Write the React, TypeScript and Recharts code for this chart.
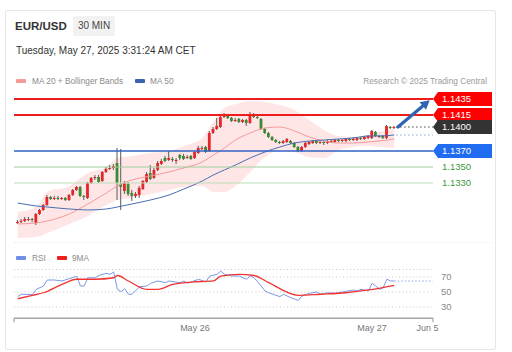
import React from "react";
import { ComposedChart, Bar, Line, Area, XAxis, YAxis, ReferenceLine, CartesianGrid } from "recharts";

const FONT = "'Liberation Sans', Arial, sans-serif";

// ---- candle data (30 min, index 0..102) ----
const opens = [1.128,1.12813,1.12825,1.12838,1.1285,1.128,1.12913,1.12963,1.13025,1.13125,1.131,1.13113,1.131,1.13113,1.13088,1.1315,1.13213,1.1325,1.13138,1.13113,1.133,1.13363,1.13375,1.13325,1.13438,1.13475,1.13488,1.1355,1.13288,1.132,1.13288,1.13175,1.13138,1.1315,1.13225,1.13313,1.13425,1.13363,1.13463,1.13538,1.13613,1.13588,1.136,1.13575,1.1365,1.13638,1.13613,1.13638,1.13613,1.13675,1.13725,1.1375,1.137,1.13925,1.13975,1.14,1.14125,1.14138,1.14113,1.14075,1.141,1.14063,1.14088,1.1405,1.1415,1.14125,1.141,1.13975,1.13925,1.13875,1.13838,1.13813,1.138,1.13813,1.13825,1.138,1.1375,1.137,1.1375,1.13788,1.138,1.13825,1.138,1.13813,1.138,1.13813,1.13813,1.13838,1.13825,1.13825,1.1385,1.13838,1.13838,1.13863,1.1385,1.13863,1.13863,1.13938,1.13875,1.13888,1.13863,1.14,1.13988];
const highs = [1.12838,1.1285,1.12875,1.12875,1.12863,1.12925,1.12975,1.13038,1.1315,1.13138,1.13138,1.13138,1.13125,1.13125,1.13163,1.13225,1.13263,1.13263,1.1315,1.13313,1.13375,1.134,1.134,1.1345,1.135,1.13525,1.13538,1.13738,1.13725,1.13325,1.13313,1.13213,1.13188,1.13263,1.13338,1.13438,1.13525,1.13488,1.13575,1.136,1.13638,1.137,1.13625,1.13613,1.13663,1.13663,1.1365,1.1365,1.137,1.13763,1.13763,1.13763,1.1395,1.14,1.14113,1.1415,1.14175,1.14163,1.14125,1.14113,1.14113,1.141,1.141,1.14188,1.14175,1.1415,1.14113,1.13988,1.13938,1.13888,1.1385,1.13825,1.13838,1.13863,1.13838,1.13813,1.13763,1.13763,1.13813,1.13825,1.13838,1.13838,1.13825,1.13825,1.13838,1.13838,1.1385,1.1385,1.1385,1.13863,1.13863,1.13875,1.13875,1.13875,1.13888,1.139,1.13963,1.1395,1.139,1.139,1.14025,1.14013,1.14013];
const lows = [1.12788,1.128,1.12813,1.12825,1.12813,1.12775,1.129,1.1295,1.13013,1.13088,1.13088,1.13088,1.13088,1.13075,1.13075,1.13138,1.132,1.13125,1.13088,1.131,1.13288,1.13338,1.133,1.13313,1.13425,1.13463,1.13463,1.13088,1.12963,1.13163,1.13138,1.13075,1.13113,1.13113,1.13213,1.133,1.13338,1.1335,1.1345,1.13525,1.13563,1.13575,1.13563,1.13538,1.13588,1.13588,1.136,1.13588,1.136,1.13663,1.13713,1.13675,1.13688,1.13913,1.13963,1.13988,1.14113,1.141,1.14063,1.14063,1.1405,1.1405,1.14013,1.14038,1.14113,1.141,1.13963,1.13913,1.13863,1.13825,1.138,1.13788,1.13788,1.138,1.13788,1.13738,1.13688,1.13688,1.13738,1.13775,1.13788,1.13788,1.13788,1.13775,1.13788,1.138,1.138,1.13813,1.13813,1.13813,1.13825,1.13825,1.13825,1.13838,1.13838,1.1385,1.1385,1.13875,1.13863,1.1385,1.1385,1.13975,1.13975];
const closes = [1.12813,1.12825,1.1285,1.1285,1.12838,1.12913,1.12963,1.13025,1.13125,1.131,1.13113,1.131,1.13113,1.13088,1.1315,1.13213,1.1325,1.13138,1.13125,1.133,1.13363,1.13375,1.13313,1.13438,1.13475,1.13488,1.13513,1.133,1.1325,1.133,1.13163,1.13138,1.13163,1.13238,1.13325,1.13413,1.1335,1.13463,1.1355,1.13575,1.13575,1.13613,1.13588,1.13588,1.13613,1.136,1.13625,1.136,1.13688,1.13738,1.13738,1.13688,1.13925,1.13975,1.14013,1.14125,1.1415,1.14113,1.14075,1.14088,1.14063,1.14088,1.1405,1.14163,1.14125,1.14113,1.13975,1.13925,1.13875,1.13838,1.13813,1.138,1.13825,1.1385,1.138,1.1375,1.137,1.1375,1.138,1.13813,1.13825,1.138,1.13813,1.138,1.13825,1.13825,1.13838,1.13825,1.13838,1.1385,1.13838,1.1385,1.13863,1.1385,1.13875,1.13888,1.1395,1.13888,1.13888,1.13863,1.14013,1.13988,1.14];

// ---- indicators read at sampled candle indices ----
const bandIdx = [0,5,8,14,19,24,27,31,36,41,45,50,53,56,59,63,67,71,75,79,83,87,91,95,98,102];
const bandUpper = [1.12938,1.13,1.13188,1.13263,1.13425,1.135,1.13613,1.13638,1.13675,1.137,1.13763,1.13863,1.14063,1.14238,1.14288,1.14325,1.14313,1.14275,1.14213,1.14088,1.13963,1.13888,1.13875,1.139,1.13938,1.13975];
const bandLower = [1.12613,1.12625,1.12675,1.12788,1.12888,1.13025,1.13088,1.13113,1.13163,1.13213,1.1325,1.13263,1.13188,1.13188,1.13263,1.13438,1.13625,1.13713,1.13688,1.13625,1.13613,1.13713,1.1375,1.13763,1.1375,1.13738];
const ma20Vals = [1.12788,1.128,1.12825,1.12913,1.13038,1.13175,1.13263,1.13338,1.13388,1.13438,1.13488,1.13563,1.1365,1.13738,1.13838,1.13925,1.13988,1.14,1.1395,1.13875,1.13825,1.138,1.138,1.13813,1.13825,1.1385];
const ma50Vals = [1.1305,1.13013,1.13,1.12975,1.12963,1.12975,1.13,1.13038,1.13088,1.1315,1.13225,1.13325,1.134,1.13463,1.13525,1.13613,1.13688,1.1375,1.138,1.13825,1.13838,1.1385,1.13863,1.13888,1.13888,1.139];

const rsiIdx = [0,1,4,5,7,8,10,12,14,16,17,18,19,21,22,24,25,26,27,28,29,30,31,33,35,36,38,40,41,44,45,46,49,51,52,54,55,56,58,60,62,63,64,66,67,68,71,72,74,76,77,79,81,82,84,86,88,91,92,93,95,96,97,98,99,100,101,102];
const rsiVals = [43.8,47,46.5,53.5,58,66,66,64.7,67.8,71,58,58,69,69,72,75,73.6,76.7,53.6,50.4,54.4,47,47,57,58,61.6,64.7,62.4,64.7,62.4,64.7,61.6,67,63.3,71.3,73.6,78,73.6,71.3,71.3,67,71.3,69,58,51.3,49,43.8,47,42.4,38.9,44.7,48.2,50,47,49,48.2,50,52.7,51.3,53.6,51.3,61.6,58,53.6,55.7,67,64.7,64.7];
const rsiMaIdx = [0,4,7,12,16,21,26,27,30,35,38,42,47,53,55,60,64,68,76,82,89,95,102];
const rsiMaVals = [41,45.6,49,60.2,67,67,69,72,64.7,53.6,53.6,60.2,63.3,64.7,71.3,73.6,72,62.4,45.6,47,49,52.7,59];

// ---- levels / ticks ----
const resistance1 = 1.1435;
const resistance2 = 1.1415;
const lastPrice = 1.14;
const pivot = 1.137;
const support1 = 1.135;
const support2 = 1.133;
const ma50Last = 1.139;
const rsiLast = 64.7;
const lastIndex = 102;
const xDomain = [-1, 112.5];
const priceDomain = [1.1255, 1.1445];
const rsiDomain = [15, 80];
const rsiTicks = [30, 50, 70];
const xTickValues = [48, 96, 111];
const xTickLabels = ["May 26", "May 27", "Jun 5"];

const candleData = opens.map((o, i) => {
  const k = bandIdx.indexOf(i);
  return {
    i,
    o,
    h: highs[i],
    l: lows[i],
    c: closes[i],
    range: [lows[i], highs[i]],
    band: k >= 0 ? [bandLower[k], bandUpper[k]] : null,
    ma20: k >= 0 ? ma20Vals[k] : null,
    ma50: k >= 0 ? ma50Vals[k] : null,
  };
});

const rsiData = opens.map((_, i) => {
  const a = rsiIdx.indexOf(i);
  const b = rsiMaIdx.indexOf(i);
  return { i, rsi: a >= 0 ? rsiVals[a] : null, ma: b >= 0 ? rsiMaVals[b] : null };
});

const Candle = (props: any) => {
  const { x, y, width, height, payload } = props;
  if (!payload || x == null) return null;
  const { o, h, l, c } = payload;
  const top = Math.min(y, y + height);
  const hgt = Math.abs(height);
  const span = h - l || 1e-9;
  const py = (v: number) => top + ((h - v) / span) * hgt;
  const cx = x + width / 2;
  const up = c >= o;
  const color = up ? "#e4262a" : "#3a8a32";
  const b1 = py(Math.max(o, c));
  const b2 = py(Math.min(o, c));
  return (
    <g>
      <line x1={cx} x2={cx} y1={top} y2={top + hgt} stroke="#5a5a5a" strokeWidth={1} />
      <rect x={cx - 1.4} y={b1} width={2.8} height={Math.max(b2 - b1, 1)} fill={color} />
    </g>
  );
};

const makeTag = (text: string, fill: string, boxed: boolean) => (props: any) => {
  const vb = props.viewBox || {};
  const x = (vb.x ?? 0) + (vb.width ?? 0);
  const y = vb.y ?? 0;
  if (!boxed) {
    return (
      <text x={x + 9} y={y + 3.3} fill={fill} fontSize={9.5} fontFamily={FONT}>
        {text}
      </text>
    );
  }
  return (
    <g>
      <path d={`M${x} ${y} L${x + 5} ${y - 7} H${x + 59} V${y + 7} H${x + 5} Z`} fill={fill} />
      <text x={x + 9} y={y + 3.3} fill="#ffffff" fontSize={9.5} fontFamily={FONT}>
        {text}
      </text>
    </g>
  );
};

const Arrow = (p: any) => {
  const { x1, y1, x2, y2 } = p;
  if (x1 == null) return null;
  const ang = Math.atan2(y2 - y1, x2 - x1);
  const L = 9;
  const W = 5;
  const bx = x2 - L * Math.cos(ang);
  const by = y2 - L * Math.sin(ang);
  const px = -Math.sin(ang) * W;
  const py = Math.cos(ang) * W;
  return (
    <g>
      <line x1={x1} y1={y1} x2={bx} y2={by} stroke="#2e64b2" strokeWidth={3.2} strokeLinecap="round" />
      <polygon points={`${x2},${y2} ${bx + px},${by + py} ${bx - px},${by - py}`} fill="#2e64b2" />
    </g>
  );
};

const XTick = (props: any) => {
  const { x, y, payload } = props;
  const v = payload.value;
  const k = xTickValues.indexOf(v);
  if (k < 0) return <line x1={x} x2={x} y1={y} y2={y + 4} stroke="#a6a6a6" strokeWidth={1.2} />;
  return (
    <text x={x} y={y + 13} textAnchor="middle" fontSize={9} fill="#777" fontFamily={FONT}>
      {xTickLabels[k]}
    </text>
  );
};

const swatch = (color: string, left: number, top: number) => (
  <div style={{ position: "absolute", left, top, width: 10, height: 4, borderRadius: 1, background: color }} />
);
const label = (text: string, left: number, top: number, extra: any = {}) => (
  <div style={{ position: "absolute", left, top, fontSize: 8.3, color: "#8a8a8a", lineHeight: "10px", whiteSpace: "nowrap", ...extra }}>
    {text}
  </div>
);

export default function App() {
  return (
    <div style={{ position: "absolute", left: 0, top: 0, width: 512, height: 352, background: "#fff", fontFamily: FONT, overflow: "hidden" }}>
      <div style={{ position: "absolute", left: 5, top: 10, width: 489, height: 338, border: "1px solid #e6e6e6", borderRadius: 2 }} />
      <div style={{ position: "absolute", left: 15, top: 18, fontSize: 11.5, fontWeight: "bold", color: "#333", lineHeight: "16px" }}>EUR/USD</div>
      <div style={{ position: "absolute", left: 73, top: 16, width: 42, height: 20, background: "#f2f2f2", borderRadius: 2, fontSize: 10, color: "#444", lineHeight: "20px", textAlign: "center" }}>30 MIN</div>
      <div style={{ position: "absolute", left: 16, top: 44, fontSize: 10, color: "#333", lineHeight: "13px", whiteSpace: "nowrap" }}>Tuesday, May 27, 2025 3:31:24 AM CET</div>

      {swatch("#f59a9a", 16, 79)}
      {label("MA 20 + Bollinger Bands", 32, 76)}
      {swatch("#3a62ad", 135, 79)}
      {label("MA 50", 150, 76)}
      {label("Research © 2025 Trading Central", 300, 76, { width: 187, textAlign: "right", color: "#9a9a9a" })}

      <div style={{ position: "absolute", left: 14, top: 242, width: 478, borderTop: "1px dotted #ececec" }} />

      {swatch("#6f8fe6", 16, 256)}
      {label("RSI", 32, 253)}
      {swatch("#f01e1e", 57, 256)}
      {label("9MA", 72, 253)}

      <div style={{ position: "absolute", left: 0, top: 0 }}>
        <ComposedChart width={512} height={250} data={candleData} margin={{ top: 91, right: 79, bottom: 7, left: 14 }}>
          <XAxis dataKey="i" type="number" domain={xDomain} hide allowDataOverflow />
          <YAxis type="number" domain={priceDomain} hide allowDataOverflow />
          <Area dataKey="band" type="monotone" stroke="none" fill="#ff6464" fillOpacity={0.16} connectNulls isAnimationActive={false} />
          <Line dataKey="ma20" type="monotone" stroke="#f39a9a" strokeWidth={1} dot={false} connectNulls isAnimationActive={false} />
          <Line dataKey="ma50" type="monotone" stroke="#4a6db3" strokeWidth={1} dot={false} connectNulls isAnimationActive={false} />
          <ReferenceLine y={support2} stroke="#b8dfb8" strokeWidth={1} label={makeTag("1.1330", "#3a9a3a", false)} />
          <ReferenceLine y={support1} stroke="#9ccf9c" strokeWidth={1} label={makeTag("1.1350", "#3a9a3a", false)} />
          <ReferenceLine y={pivot} stroke="#2f62c6" strokeWidth={1.5} label={makeTag("1.1370", "#1f6cf0", true)} />
          <ReferenceLine y={resistance2} stroke="#ee1c1c" strokeWidth={2} label={makeTag("1.1415", "#ff0000", true)} />
          <ReferenceLine y={resistance1} stroke="#ee1c1c" strokeWidth={2} label={makeTag("1.1435", "#ff0000", true)} />
          <Bar dataKey="range" barSize={3} shape={Candle} isAnimationActive={false} />
          <ReferenceLine
            segment={[{ x: lastIndex + 0.5, y: ma50Last }, { x: xDomain[1], y: ma50Last }]}
            stroke="#8fa8dc"
            strokeWidth={1}
            strokeDasharray="1.5 2.5"
          />
          <ReferenceLine
            segment={[{ x: lastIndex + 0.5, y: lastPrice }, { x: xDomain[1], y: lastPrice }]}
            stroke="#444"
            strokeWidth={1}
            strokeDasharray="1.5 2.5"
            label={makeTag("1.1400", "#333333", true)}
          />
          <ReferenceLine
            segment={[{ x: lastIndex + 1, y: lastPrice }, { x: 111.6, y: resistance1 - 0.00015 }]}
            shape={Arrow}
          />
        </ComposedChart>
      </div>

      <div style={{ position: "absolute", left: 0, top: 250 }}>
        <ComposedChart width={512} height={100} data={rsiData} margin={{ top: 19.5, right: 39, bottom: 11.75, left: 14 }}>
          <CartesianGrid vertical={false} stroke="#c8c8c8" strokeDasharray="1 2.5" />
          <XAxis
            dataKey="i"
            type="number"
            domain={xDomain}
            ticks={[xDomain[0], ...xTickValues, xDomain[1]]}
            interval={0}
            tick={XTick}
            tickSize={0}
            tickMargin={0}
            tickLine={false}
            height={20}
            axisLine={{ stroke: "#a6a6a6", strokeWidth: 1.5 }}
            allowDataOverflow
          />
          <YAxis
            orientation="right"
            type="number"
            domain={rsiDomain}
            ticks={rsiTicks}
            interval={0}
            width={40}
            axisLine={false}
            tickLine={false}
            tick={{ fontSize: 9.5, fill: "#888", fontFamily: FONT }}
            allowDataOverflow
          />
          <Line dataKey="rsi" type="linear" stroke="#7b98e6" strokeWidth={1} dot={false} connectNulls isAnimationActive={false} />
          <Line dataKey="ma" type="monotone" stroke="#f03434" strokeWidth={1.3} dot={false} connectNulls isAnimationActive={false} />
          <ReferenceLine
            segment={[{ x: lastIndex, y: rsiLast }, { x: xDomain[1], y: rsiLast }]}
            stroke="#8fa6e8"
            strokeWidth={1.2}
            strokeDasharray="1.5 2"
          />
        </ComposedChart>
      </div>
    </div>
  );
}
